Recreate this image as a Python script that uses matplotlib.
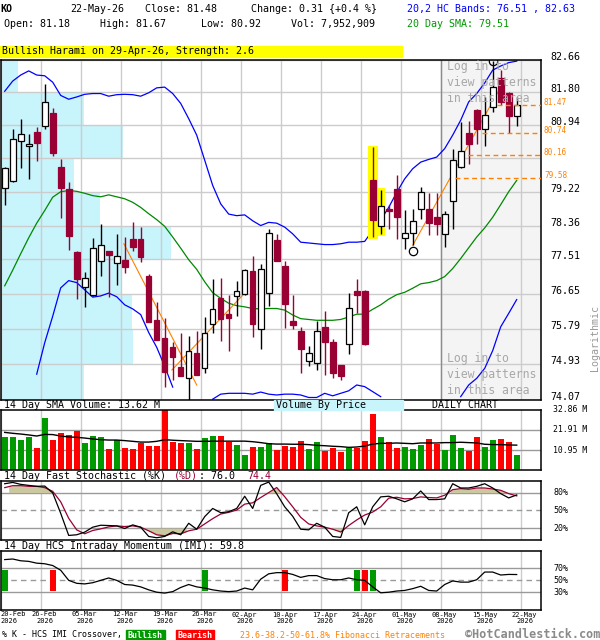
"""
KO daily candlestick chart in the HotCandlestick layout: price with HC bands,
20 day SMA and volume-by-price, then volume, fast stochastic and HCS IMI panels.
"""

import numpy as np
import matplotlib
matplotlib.use("Agg")
import matplotlib.pyplot as plt
import matplotlib.transforms as mtransforms
from matplotlib.patches import Rectangle
from matplotlib.ticker import NullLocator, NullFormatter


OUTPUT = "out.png"
FIG_W, FIG_H = 600, 640

TICKER = "KO"
LAST_DATE = "22-May-26"
PATTERN_TEXT = "Bullish Harami on 29-Apr-26, Strength: 2.6"

# one entry per trading day, 20-Feb-26 .. 22-May-26
OPEN = [79.32, 79.50, 80.54, 80.41, 80.76, 80.93, 81.25, 79.86, 79.30, 77.69,
        76.81, 76.62, 77.48, 77.71, 77.43, 77.49, 78.01, 78.01, 77.09, 76.00,
        75.56, 75.34, 74.86, 74.59, 75.19, 74.83, 75.92, 76.54, 76.15, 76.60,
        76.65, 77.22, 75.78, 76.67, 77.99, 77.34, 75.98, 75.74, 75.01, 74.95,
        75.83, 75.48, 74.91, 75.42, 76.73, 76.73, 79.51, 78.35, 78.79, 79.30,
        78.04, 78.17, 78.78, 78.78, 78.57, 78.15, 78.99, 79.85, 80.74, 81.35,
        80.85, 81.42, 82.17, 81.79, 81.18]
HIGH = [79.86, 80.85, 81.09, 80.71, 80.90, 82.01, 81.40, 80.07, 79.48, 77.73,
        77.19, 78.05, 78.40, 77.73, 78.15, 78.07, 78.44, 78.32, 77.14, 76.46,
        76.06, 75.46, 75.70, 75.62, 75.74, 76.07, 77.02, 77.04, 76.63, 76.98,
        77.28, 77.59, 77.39, 78.28, 78.15, 77.46, 76.63, 75.83, 75.36, 75.98,
        76.23, 75.54, 74.92, 76.68, 77.02, 76.75, 80.36, 79.27, 78.89, 79.64,
        78.76, 78.77, 79.33, 79.18, 79.18, 78.72, 80.33, 81.03, 81.04, 81.37,
        81.68, 82.62, 82.39, 81.80, 81.67]
LOW = [78.87, 79.48, 79.83, 79.54, 80.01, 80.83, 80.14, 78.54, 77.74, 76.52,
       76.33, 76.60, 77.10, 76.58, 76.87, 77.17, 77.72, 77.44, 75.95, 75.52,
       74.39, 74.55, 74.64, 74.05, 74.66, 74.71, 75.70, 75.49, 75.25, 76.10,
       76.63, 75.60, 75.30, 76.35, 77.46, 75.81, 75.78, 74.71, 74.88, 74.80,
       74.67, 74.59, 74.56, 75.17, 76.17, 75.40, 78.07, 78.15, 78.28, 78.01,
       77.76, 77.86, 78.53, 78.11, 78.11, 77.82, 78.28, 79.84, 79.94, 80.46,
       80.39, 81.29, 81.46, 80.74, 80.92]
CLOSE = [79.84, 80.57, 80.72, 80.46, 80.48, 81.56, 80.22, 79.31, 78.09, 77.03,
         77.04, 77.80, 77.88, 77.62, 77.60, 77.32, 77.81, 77.57, 75.96, 75.53,
         74.75, 75.10, 74.65, 75.24, 74.67, 75.69, 76.28, 76.04, 76.06, 76.72,
         77.24, 75.92, 77.28, 78.18, 77.47, 76.41, 75.88, 75.30, 75.19, 75.74,
         75.46, 74.71, 74.64, 76.29, 76.63, 75.41, 78.49, 78.86, 78.74, 78.57,
         78.17, 78.48, 79.20, 78.43, 78.40, 78.66, 80.03, 80.26, 80.46, 80.83,
         81.20, 81.93, 81.55, 81.17, 81.48]

UPPER_BAND = [81.83, 82.10, 82.26, 82.37, 82.26, 82.24, 82.07, 81.72, 81.62, 81.68,
              81.75, 81.77, 81.77, 81.70, 81.74, 81.75, 81.74, 81.70, 81.79, 81.92,
              81.94, 81.77, 81.51, 81.11, 80.68, 80.03, 79.38, 78.91, 78.65, 78.61,
              78.63, 78.48, 78.36, 78.44, 78.42, 78.32, 78.15, 77.94, 77.92, 77.90,
              77.88, 77.88, 77.90, 77.94, 77.94, 77.96, 78.24, 78.50, 78.82, 79.20,
              79.55, 79.81, 79.98, 80.05, 80.11, 80.33, 80.68, 81.07, 81.55, 81.77,
              82.05, 82.39, 82.50, 82.59, 82.63]
# None where the band runs below the chart floor
LOWER_BAND = [None, None, None, None, 74.69, 75.45, 76.10, 76.80, 76.98, 76.93,
              76.75, 76.57, 76.60, 76.67, 76.58, 76.38, 76.28, 76.14, 75.70, 75.34,
              74.88, 74.38, None, None, None, None, 74.09, 74.21, 74.23, 74.23,
              74.23, 74.21, 74.26, 74.21, 74.19, 74.21, 74.21, 74.19, 74.13, 74.13,
              74.23, 74.17, 74.23, 74.29, 74.43, 74.39, 74.27, 74.15, None, None,
              None, None, None, None, None, None, None, 74.15, 74.43, 74.59,
              74.83, 75.26, 75.84, 76.17, 76.51]
SMA20 = [76.85, 77.24, 77.65, 78.05, 78.42, 78.74, 79.08, 79.22, 79.25, 79.23,
         79.18, 79.12, 79.09, 79.14, 79.09, 79.04, 78.95, 78.82, 78.66, 78.51,
         78.34, 78.07, 77.79, 77.50, 77.26, 76.95, 76.68, 76.54, 76.42, 76.36,
         76.33, 76.29, 76.28, 76.29, 76.29, 76.25, 76.13, 76.04, 76.02, 76.00,
         76.00, 76.00, 76.02, 76.08, 76.15, 76.15, 76.27, 76.38, 76.52, 76.63,
         76.69, 76.79, 76.90, 76.93, 76.98, 77.08, 77.28, 77.53, 77.80, 78.07,
         78.30, 78.57, 78.89, 79.22, 79.51]

# volume in millions of shares
VOLUME = [17.8, 17.8, 16.7, 18.3, 12.3, 28.7, 16.7, 20.5, 19.4, 21.6,
          15.0, 18.8, 17.8, 11.7, 16.7, 12.3, 11.7, 15.0, 13.4, 13.4,
          34.0, 15.6, 15.0, 15.0, 11.7, 17.7, 18.8, 18.8, 15.5, 13.7,
          8.2, 12.6, 12.6, 14.8, 11.1, 13.3, 12.8, 15.9, 11.7, 15.6,
          10.6, 12.3, 10.1, 11.9, 12.3, 16.1, 30.9, 18.3, 15.6, 12.3,
          12.8, 11.7, 13.9, 17.2, 14.0, 11.1, 19.4, 12.3, 10.5, 17.8,
          12.8, 16.6, 17.1, 15.4, 7.952909]
VOLUME_SMA14 = [20.6, 20.1, 19.7, 19.2, 18.6, 19.5, 19.4, 18.6, 18.1, 17.9,
                17.5, 17.0, 16.6, 16.4, 16.4, 16.1, 15.7, 15.3, 15.3, 15.7,
                16.6, 16.3, 16.1, 15.9, 15.7, 15.7, 15.8, 15.8, 15.8, 15.8,
                15.8, 15.5, 15.0, 14.4, 14.2, 14.2, 14.1, 14.1, 13.9, 13.5,
                13.3, 13.0, 12.8, 12.4, 12.6, 13.1, 14.2, 14.6, 14.6, 14.8,
                14.6, 14.4, 14.8, 14.8, 14.8, 15.0, 15.0, 15.2, 15.0, 14.8,
                14.1, 13.9, 13.9, 13.7, 13.62]

STOCH_K = [94.9, 97.1, 93.8, 92.1, 90.5, 91.0, 79.4, 45.0, 7.7, 8.8,
           13.3, 21.6, 24.9, 24.4, 23.8, 19.4, 25.5, 21.6, 6.0, 3.8,
           6.0, 13.8, 8.8, 28.2, 18.2, 39.4, 53.2, 46.0, 47.7, 53.2,
           73.8, 53.2, 92.1, 97.7, 78.0, 56.0, 40.0, 18.2, 17.1, 28.2,
           21.6, 6.0, 4.4, 46.0, 56.0, 25.5, 56.0, 72.7, 73.8, 69.4,
           64.4, 69.4, 82.7, 68.2, 68.2, 69.4, 94.9, 87.7, 87.7, 90.5,
           94.9, 87.7, 78.2, 71.0, 76.0]
STOCH_D = [88.3, 91.6, 91.6, 90.5, 90.5, 88.3, 82.1, 64.4, 36.6, 17.1,
           10.5, 16.0, 18.8, 22.1, 23.8, 22.7, 23.8, 21.6, 15.5, 8.8,
           7.1, 11.0, 10.5, 15.5, 18.2, 27.1, 36.0, 43.8, 46.6, 50.5,
           60.5, 62.7, 71.6, 79.9, 88.5, 73.0, 56.0, 38.3, 27.1, 23.8,
           21.6, 18.2, 13.5, 24.4, 33.8, 42.1, 47.1, 56.0, 70.5, 72.1,
           69.4, 69.9, 72.7, 71.6, 71.0, 75.5, 84.9, 86.6, 85.5, 87.7,
           87.7, 86.0, 83.8, 78.2, 74.4]
# day ranges where the stochastic zone is shaded
STOCH_ZONE_SPANS = [(0.5, 6.0), (17.0, 22.7), (33.0, 34.6), (40.8, 43.0), (55.7, 63.2)]

IMI = [85, 86, 83, 82, 79, 78, 75, 67, 50, 45,
       44, 46, 50, 54, 50, 43, 42, 39, 34, 30,
       28.5, 31, 38, 43, 39, 37, 34, 32, 31, 32,
       37, 34, 52, 61, 63, 63, 60, 55, 58, 58,
       53, 51, 51, 54, 51, 50, 39, 29, 30, 32,
       33, 36, 40, 33, 32, 43, 49, 47, 47, 51,
       64, 64, 59, 60, 59.8]
IMI_SIGNAL_DAYS = [0, 6, 25, 35, 44, 45, 46]
IMI_SIGNAL_KIND = ["bull", "bear", "bull", "bear", "bull", "bear", "bull"]
IMI_SIGNAL_RANGE = (32, 67)

# price grid (log scale) and the labels printed next to it
PRICE_GRID = [74.07, 74.93, 75.79, 76.65, 77.51, 78.36, 79.22, 80.08, 80.94, 81.80, 82.66]
PRICE_LABELS = [74.07, 74.93, 75.79, 76.65, 77.51, 78.36, 79.22, 80.94, 81.80, 82.66]
# volume by price, one value per grid band from the bottom up (relative)
VBP_VOLUME = [83, 132, 131, 120, 170, 99, 73, 122, 83, 17]

FIB_LEVELS = [81.47, 80.74, 80.16, 79.58]
FIB_START_DAY = [61.5, 59.6, 57.9, 56.3]
TREND_X = [[14.9, 24.0], [20.9, 30.0], [51.0, 62.0]]
TREND_P = [[77.90, 74.43], [74.79, 76.67], [77.86, 81.94]]
SWING_X = [51, 61]
SWING_P = [77.73, 82.64]
HARAMI_DAYS = [46, 47]
LOCKED_FROM_DAY = 54.5

VOLUME_TICKS = [32.86, 21.91, 10.95]
DATE_LABELS = ["20-Feb", "26-Feb", "05-Mar", "12-Mar", "19-Mar", "26-Mar", "02-Apr",
               "10-Apr", "17-Apr", "24-Apr", "01-May", "08-May", "15-May", "22-May"]
DATE_YEAR = "2026"

CANDLE_RED = "#990033"
VOL_GREEN = "#009900"
VOL_RED = "#ff0000"
BAND_BLUE = "#0000ff"
SMA_GREEN = "#008800"
VBP_CYAN = "#c8f4fc"
GRID = "#cccccc"
LEVEL_GRAY = "#9a9a9a"
FIB_ORANGE = "#ff8000"
ZONE_KHAKI = "#cbc79e"
LOCKED_BG = "#f4f4f4"
MUTED = "#a8a8a8"

plt.rcParams["font.family"] = ["DejaVu Sans Mono"]
FS = 7.2

N = len(CLOSE)
DAYS = np.arange(N)
XLIM = ((0.5 - 4.7) / 8, (541 - 4.7) / 8)
GRID_DAYS = [5 * k - 0.5 for k in range(len(DATE_LABELS))]


def fx(px):
    return px / FIG_W


def fy(py):
    return 1.0 - py / FIG_H


def add_panel(fig, top, bottom):
    ax = fig.add_axes([fx(0.5), fy(bottom), (541 - 0.5) / FIG_W, (bottom - top) / FIG_H])
    ax.set_xlim(*XLIM)
    ax.set_xticks([])
    ax.set_yticks([])
    for s in ax.spines.values():
        s.set_linewidth(1.1)
        s.set_color("black")
    for g in GRID_DAYS:
        ax.axvline(g, color=GRID, lw=1.0, zorder=1)
    return ax


def draw_header(fig):
    fig.text(fx(0), fy(9), TICKER, fontsize=FS, fontweight="bold", va="center")
    change = CLOSE[-1] - CLOSE[-2]
    pct = change / CLOSE[-2] * 100
    row1 = [(70, LAST_DATE), (145, f"Close: {CLOSE[-1]:.2f}"),
            (251, f"Change: {change:.2f} {{{pct:+.1f} %}}")]
    for x, s in row1:
        fig.text(fx(x), fy(9), s, fontsize=FS, va="center")
    row2 = [(4, f"Open: {OPEN[-1]:.2f}"), (100, f"High: {HIGH[-1]:.2f}"),
            (201, f"Low: {LOW[-1]:.2f}"), (291, f"Vol: {VOLUME[-1] * 1e6:,.0f}")]
    for x, s in row2:
        fig.text(fx(x), fy(24), s, fontsize=FS, va="center")
    fig.text(fx(407), fy(9), f"20,2 HC Bands: {LOWER_BAND[-1]:.2f} , {UPPER_BAND[-1]:.2f}",
             fontsize=FS, va="center", color=BAND_BLUE)
    fig.text(fx(407), fy(24), f"20 Day SMA: {SMA20[-1]:.2f}", fontsize=FS, va="center",
             color=VOL_GREEN)
    fig.patches.append(Rectangle((fx(0), fy(56.7)), fx(402), (56.7 - 45.5) / FIG_H,
                                 transform=fig.transFigure, color="#ffff00", zorder=0))
    fig.text(fx(2), fy(51.3), PATTERN_TEXT, fontsize=FS, va="center")


def draw_price(fig):
    ax = add_panel(fig, 60, 400)
    ax.set_yscale("log")
    ax.set_ylim(PRICE_GRID[0], PRICE_GRID[-1])
    ax.yaxis.set_major_locator(NullLocator())
    ax.yaxis.set_minor_locator(NullLocator())
    ax.yaxis.set_minor_formatter(NullFormatter())

    ax.axvspan(LOCKED_FROM_DAY, XLIM[1], color=LOCKED_BG, zorder=0, lw=0)
    ax.axvline(LOCKED_FROM_DAY, color="#8c8c8c", lw=1.0, zorder=1.2)

    # volume by price bands
    span = XLIM[1] - XLIM[0]
    full = 170 / 540.5 * span
    vmax = max(VBP_VOLUME)
    for lo, hi, v in zip(PRICE_GRID[:-1], PRICE_GRID[1:], VBP_VOLUME):
        ax.barh(lo, v / vmax * full, height=hi - lo, left=XLIM[0], align="edge",
                color=VBP_CYAN, lw=0, zorder=0.5)
    for p in PRICE_GRID:
        ax.axhline(p, color=GRID, lw=1.0, zorder=1)

    ax.plot(DAYS, UPPER_BAND, color=BAND_BLUE, lw=0.9, zorder=2)
    ax.plot(DAYS, np.array(LOWER_BAND, dtype=float), color=BAND_BLUE, lw=0.9, zorder=2)
    ax.plot(DAYS, SMA20, color=SMA_GREEN, lw=0.9, zorder=2)

    for d in HARAMI_DAYS:
        w = 1.25 if d == HARAMI_DAYS[0] else 1.05
        lo, hi = LOW[d] / 1.0006, HIGH[d] * 1.0006
        ax.bar(d, hi - lo, bottom=lo, width=w, color="#ffff00", lw=0, zorder=2.5)

    for xs, ps in zip(TREND_X, TREND_P):
        ax.plot(xs, ps, color=FIB_ORANGE, lw=0.8, zorder=2.6)

    for i in range(N):
        up = CLOSE[i] >= OPEN[i]
        col = "black" if up else CANDLE_RED
        ax.vlines(i, LOW[i], HIGH[i], color=col, lw=1.0, zorder=3)
        lo, hi = min(OPEN[i], CLOSE[i]), max(OPEN[i], CLOSE[i])
        ax.bar(i, hi - lo, bottom=lo, width=0.7, zorder=4,
               facecolor="white" if up else CANDLE_RED,
               edgecolor="black" if up else CANDLE_RED, lw=0.9)

    ax.plot(SWING_X, SWING_P, "o", mfc="none", mec="black", ms=6, mew=0.9, zorder=5)

    trans = mtransforms.blended_transform_factory(fig.transFigure, ax.transData)
    for lvl, x0 in zip(FIB_LEVELS, FIB_START_DAY):
        ax.plot([x0, XLIM[1]], [lvl, lvl], color=FIB_ORANGE, lw=1.0,
                dashes=(3.5, 2.5), zorder=5)
        ax.text(fx(544), lvl, f"{lvl:.2f}", transform=trans, fontsize=5.6,
                color=FIB_ORANGE, va="baseline", clip_on=False)
    for p in PRICE_LABELS:
        ax.text(fx(550), p, f"{p:.2f}", transform=trans, fontsize=FS,
                va="baseline", clip_on=False)

    msg = "Log in to\nview patterns\nin this area"
    for yc in (82.3, 374.3):
        fig.text(fx(446.7), fy(yc), msg, fontsize=8.3, color=MUTED, va="center",
                 linespacing=1.3, zorder=6)
    fig.text(fx(595), fy(338), "Logarithmic", rotation=90, fontsize=FS,
             color="#999999", ha="center", va="center")
    return ax


def draw_volume(fig):
    ax = add_panel(fig, 410, 470)
    ax.set_ylim(0, VOLUME_TICKS[0])
    for v in VOLUME_TICKS[1:]:
        ax.axhline(v, color=LEVEL_GRAY, lw=1.0, zorder=1)
    colors = [VOL_GREEN if c >= o else VOL_RED for o, c in zip(OPEN, CLOSE)]
    ax.bar(DAYS, VOLUME, width=0.75, color=colors, lw=0, zorder=2)
    ax.plot(DAYS, VOLUME_SMA14, color="black", lw=1.0, zorder=3)
    trans = mtransforms.blended_transform_factory(fig.transFigure, ax.transData)
    for v in VOLUME_TICKS:
        ax.text(fx(553), v, f"{v:.2f} M", transform=trans, fontsize=5.9,
                va="center", clip_on=False)

    fig.text(fx(4), fy(405.5), f"14 Day SMA Volume: {VOLUME_SMA14[-1]:.2f} M",
             fontsize=FS, va="center")
    fig.patches.append(Rectangle((fx(274), fy(410)), (403 - 274) / FIG_W, 10 / FIG_H,
                                 transform=fig.transFigure, color=VBP_CYAN, zorder=0))
    fig.text(fx(276), fy(405.5), "Volume By Price", fontsize=FS, va="center")
    fig.text(fx(432), fy(405.5), "DAILY CHART", fontsize=FS, va="center")


def draw_stochastic(fig):
    ax = add_panel(fig, 480.7, 540)
    ax.set_ylim(0, 100)
    ax.axhline(80, color=LEVEL_GRAY, lw=1.0, zorder=1)
    ax.axhline(20, color=LEVEL_GRAY, lw=1.0, zorder=1)
    ax.axhline(50, color=LEVEL_GRAY, lw=1.0, dashes=(4, 3), zorder=1)

    for a, b in STOCH_ZONE_SPANS:
        xs = np.linspace(a, b, 80)
        d = np.interp(xs, DAYS, STOCH_D)
        level = 80 if d.mean() > 50 else 20
        where = d > level if level == 80 else d < level
        ax.fill_between(xs, d, level, where=where, interpolate=True,
                        color=ZONE_KHAKI, lw=0, zorder=1.5)

    ax.plot(DAYS, STOCH_K, color="black", lw=0.9, zorder=3)
    ax.plot(DAYS, STOCH_D, color=CANDLE_RED, lw=0.9, zorder=2.5)

    trans = mtransforms.blended_transform_factory(fig.transFigure, ax.transData)
    for lvl in (80, 50, 20):
        ax.text(fx(553), lvl, f"{lvl}%", transform=trans, fontsize=6,
                va="center", clip_on=False)

    y = fy(476)
    fig.text(fx(4), y, "14 Day Fast Stochastic (%K)", fontsize=FS, va="center")
    fig.text(fx(174), y, "(%D)", fontsize=FS, va="center", color=CANDLE_RED)
    fig.text(fx(199), y, f": {STOCH_K[-1]:.1f}", fontsize=FS, va="center")
    fig.text(fx(247), y, f"{STOCH_D[-1]:.1f}", fontsize=FS, va="center", color=CANDLE_RED)


def draw_imi(fig):
    ax = add_panel(fig, 550.7, 610)
    ax.set_ylim(0, 100)
    ax.axhline(70, color=LEVEL_GRAY, lw=1.0, zorder=1)
    ax.axhline(30, color=LEVEL_GRAY, lw=1.0, zorder=1)
    ax.axhline(50, color=LEVEL_GRAY, lw=1.0, dashes=(4, 3), zorder=1)

    lo, hi = IMI_SIGNAL_RANGE
    for d, kind in zip(IMI_SIGNAL_DAYS, IMI_SIGNAL_KIND):
        ax.bar(d, hi - lo, bottom=lo, width=0.72,
               color=VOL_GREEN if kind == "bull" else VOL_RED, lw=0, zorder=2)
    ax.plot(DAYS, IMI, color="black", lw=0.9, zorder=3)

    trans = mtransforms.blended_transform_factory(fig.transFigure, ax.transData)
    for lvl in (70, 50, 30):
        ax.text(fx(553), lvl, f"{lvl}%", transform=trans, fontsize=6,
                va="center", clip_on=False)
    fig.text(fx(4), fy(546), f"14 Day HCS Intraday Momentum (IMI): {IMI[-1]:.1f}",
             fontsize=FS, va="center")

    # date labels under the last panel
    dtrans = mtransforms.blended_transform_factory(ax.transData, fig.transFigure)
    for i, (g, lab) in enumerate(zip(GRID_DAYS, DATE_LABELS)):
        if i == 0:
            ax.text(XLIM[0], fy(611.5), f"{lab}\n{DATE_YEAR}", transform=dtrans,
                    fontsize=5.0, ha="left", va="top", linespacing=1.1, clip_on=False)
        else:
            ax.text(g + 0.5, fy(611.5), f"{lab}\n{DATE_YEAR}", transform=dtrans,
                    fontsize=5.0, ha="center", va="top", linespacing=1.1, clip_on=False)


def draw_footer(fig):
    y = fy(635)
    fig.text(fx(2), y, "% K - HCS IMI Crossover,", fontsize=6, va="center")
    for x0, x1, label, col in ((126, 165, "Bullish", VOL_GREEN), (176, 214, "Bearish", VOL_RED)):
        fig.patches.append(Rectangle((fx(x0), fy(639.5)), (x1 - x0) / FIG_W, 9.5 / FIG_H,
                                     transform=fig.transFigure, color=col, zorder=0))
        fig.text(fx((x0 + x1) / 2), y, label, fontsize=6, color="white",
                 ha="center", va="center", fontweight="bold")
    fig.text(fx(240), y, "23.6-38.2-50-61.8% Fibonacci Retracements", fontsize=6,
             va="center", color=FIB_ORANGE)
    fig.text(fx(465), y, "\u00a9HotCandlestick.com", fontsize=8.5, va="center",
             color="#8a8a8a", fontweight="bold")


def main():
    fig = plt.figure(figsize=(FIG_W / 100, FIG_H / 100), dpi=100)
    fig.patch.set_facecolor("white")
    draw_header(fig)
    draw_price(fig)
    draw_volume(fig)
    draw_stochastic(fig)
    draw_imi(fig)
    draw_footer(fig)
    fig.savefig(OUTPUT, dpi=100)
    plt.close(fig)


if __name__ == "__main__":
    main()
